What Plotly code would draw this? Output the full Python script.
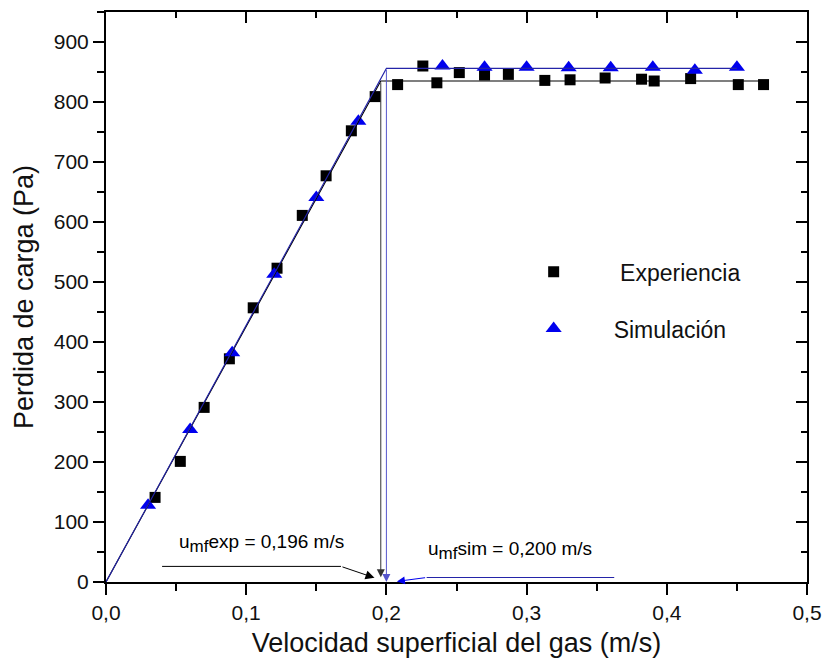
import plotly.graph_objects as go

# Experimental bed pressure drop vs superficial gas velocity
u_exp = [0.035, 0.053, 0.070, 0.088, 0.105, 0.122, 0.140, 0.157, 0.175, 0.192,
         0.208, 0.226, 0.236, 0.252, 0.270, 0.287, 0.313, 0.331, 0.356, 0.382,
         0.391, 0.417, 0.451, 0.469]
dp_exp = [141, 201, 291, 372, 457, 523, 611, 677, 752, 809,
          829, 860, 832, 849, 845, 846, 836, 837, 840, 838,
          835, 839, 829, 829]

# Simulated bed pressure drop
u_sim = [0.03, 0.06, 0.09, 0.12, 0.15, 0.18, 0.24, 0.27, 0.30, 0.33, 0.36, 0.39, 0.42, 0.45]
dp_sim = [128, 254, 382, 513, 641, 768, 860, 858, 858, 857, 857, 858, 853, 858]

# Minimum fluidisation velocities and fitted plateau pressure drops
umf_exp = 0.196
umf_sim = 0.200
dp_bed_exp = 835
dp_bed_sim = 856

x_ticks = [0.0, 0.1, 0.2, 0.3, 0.4, 0.5]
y_ticks = [0, 100, 200, 300, 400, 500, 600, 700, 800, 900]
x_range = [0, 0.5]
y_range = [0, 950]

FONT = "Liberation Sans, Arial, sans-serif"
BLUE = "#0000ee"
LINE_BLUE = "#2424a8"


def comma(v):
    return f"{v:.3f}".replace(".", ",")


def umf_label(tag, value):
    return ("u<sub><span style='font-size:17px'>mf</span></sub>"
            "%s = %s m/s" % (tag, comma(value)))


fig = go.Figure()

# Fitted fixed-bed / fluidised-bed lines (drawn on the mirrored top/right axes,
# which share the same ranges as the main axes)
fig.add_trace(go.Scatter(
    x=[0, umf_exp, u_exp[-1]], y=[0, dp_bed_exp, dp_bed_exp],
    xaxis="x2", yaxis="y2",
    mode="lines", line=dict(color="black", width=1.1),
    showlegend=False, hoverinfo="skip"))
fig.add_trace(go.Scatter(
    x=[0, umf_sim, u_sim[-1]], y=[0, dp_bed_sim, dp_bed_sim],
    xaxis="x2", yaxis="y2",
    mode="lines", line=dict(color=LINE_BLUE, width=1.1),
    showlegend=False, hoverinfo="skip"))

fig.add_trace(go.Scatter(
    x=u_exp, y=dp_exp, mode="markers", name="\u00a0Experiencia",
    legendgroup="exp",
    marker=dict(symbol="square", size=11, color="black")))
fig.add_trace(go.Scatter(
    x=u_sim, y=dp_sim, mode="markers", name="Simulación",
    legendgroup="sim",
    marker=dict(symbol="triangle-up", size=14, color=BLUE)))

# Vertical drop lines at umf with arrowheads on the axis
fig.add_annotation(x=umf_exp, y=8, ax=umf_exp, ay=dp_bed_exp,
                   xref="x", yref="y", axref="x", ayref="y", text="",
                   showarrow=True, arrowhead=2, arrowsize=1.6, arrowwidth=1,
                   arrowcolor="#333333")
fig.add_annotation(x=umf_sim, y=0, ax=umf_sim, ay=dp_bed_sim,
                   xref="x", yref="y", axref="x", ayref="y", text="",
                   showarrow=True, arrowhead=2, arrowsize=1.6, arrowwidth=1,
                   arrowcolor="#5555cc")

# Leader lines for the umf labels
fig.add_shape(type="line", xref="x", yref="y", x0=0.040, y0=26, x1=0.1676, y1=26,
              line=dict(color="black", width=1))
fig.add_annotation(x=0.1915, y=7, ax=0.1676, ay=26,
                   xref="x", yref="y", axref="x", ayref="y", text="",
                   showarrow=True, arrowhead=2, arrowsize=1.8, arrowwidth=1,
                   arrowcolor="black")
fig.add_shape(type="line", xref="x", yref="y", x0=0.3625, y0=7.5, x1=0.2287, y1=7.5,
              line=dict(color=LINE_BLUE, width=1))
fig.add_annotation(x=0.2075, y=1, ax=0.2287, ay=7.5,
                   xref="x", yref="y", axref="x", ayref="y", text="",
                   showarrow=True, arrowhead=2, arrowsize=1.6, arrowwidth=1,
                   arrowcolor=BLUE)

fig.add_annotation(x=0.0505, y=65, xref="x", yref="y", xanchor="left", yanchor="middle",
                   text=umf_label("exp", umf_exp),
                   showarrow=False, font=dict(family=FONT, size=19, color="black"))
fig.add_annotation(x=0.2285, y=52, xref="x", yref="y", xanchor="left", yanchor="middle",
                   text=umf_label("sim", umf_sim),
                   showarrow=False, font=dict(family=FONT, size=19, color="black"))

axis_common = dict(showgrid=False, zeroline=False, tickcolor="black", tickwidth=1.5)
minor_common = dict(tickwidth=1.5, tickcolor="black")

fig.update_layout(
    width=832, height=670,
    margin=dict(l=106, r=19, t=10, b=88),
    paper_bgcolor="white", plot_bgcolor="white",
    separators=", ",
    font=dict(family=FONT, color="black"),
    xaxis=dict(range=x_range, tickvals=x_ticks, tickformat=".1f",
               ticks="outside", ticklen=11, showline=True, mirror=True,
               linecolor="black", linewidth=2,
               minor=dict(ticks="outside", ticklen=7, dtick=0.05, **minor_common),
               tickfont=dict(size=21, family=FONT, color="#111"),
               title=dict(text="Velocidad superficial del gas (m/s)",
                          font=dict(size=27, family=FONT, color="#111"), standoff=10),
               **axis_common),
    yaxis=dict(range=y_range, tickvals=y_ticks,
               ticks="outside", ticklen=11, showline=True, mirror=True,
               linecolor="black", linewidth=2,
               minor=dict(ticks="outside", ticklen=7, dtick=50, **minor_common),
               tickfont=dict(size=21, family=FONT, color="#111"),
               title=dict(text="Perdida de carga (Pa)",
                          font=dict(size=27, family=FONT, color="#111"), standoff=12),
               **axis_common),
    xaxis2=dict(range=x_range, overlaying="x", side="top", anchor="y2",
                tickvals=x_ticks, ticks="inside", ticklen=11, showticklabels=False,
                minor=dict(ticks="inside", ticklen=6, dtick=0.05, **minor_common),
                showline=False, **axis_common),
    yaxis2=dict(range=y_range, overlaying="y", side="right", anchor="x2",
                tickvals=y_ticks, ticks="inside", ticklen=11, showticklabels=False,
                minor=dict(ticks="inside", ticklen=6, dtick=50, **minor_common),
                showline=False, **axis_common),
    legend=dict(x=0.553, y=0.582, xanchor="left", yanchor="top",
                bgcolor="rgba(0,0,0,0)", borderwidth=0,
                itemwidth=110, traceorder="grouped", tracegroupgap=24,
                font=dict(size=23, family=FONT, color="#111")),
    showlegend=True,
)

fig.write_html("out.html")
